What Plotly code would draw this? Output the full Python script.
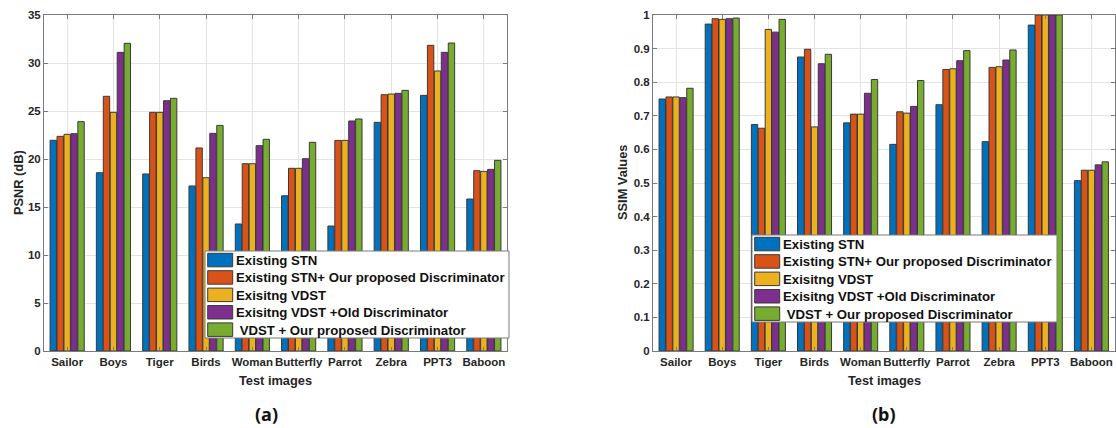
import plotly.graph_objects as go
from plotly.subplots import make_subplots

# Test images and method names
images = ["Sailor", "Boys", "Tiger", "Birds", "Woman", "Butterfly", "Parrot", "Zebra", "PPT3", "Baboon"]
methods = [
    "Existing STN",
    "Existing STN+ Our proposed Discriminator",
    "Exisitng VDST",
    "Exisitng VDST +Old Discriminator",
    " VDST + Our proposed Discriminator",
]
colors = ["#0072BD", "#D95319", "#EDB120", "#7E2F8E", "#77AC30"]

# PSNR (dB) per method
psnr_stn = [21.95, 18.57, 18.44, 17.19, 13.23, 16.17, 13.02, 23.82, 26.63, 15.83]
psnr_stn_ours = [22.36, 26.53, 24.86, 21.15, 19.51, 19.03, 21.94, 26.70, 31.84, 18.78]
psnr_vdst = [22.57, 24.86, 24.86, 18.05, 19.51, 19.03, 21.94, 26.77, 29.17, 18.71]
psnr_vdst_old = [22.64, 31.11, 26.07, 22.67, 21.39, 20.03, 23.96, 26.84, 31.11, 18.92]
psnr_vdst_ours = [23.89, 32.05, 26.32, 23.50, 22.05, 21.74, 24.17, 27.15, 32.08, 19.86]

# SSIM per method
ssim_stn = [0.750, 0.973, 0.674, 0.875, 0.679, 0.615, 0.733, 0.623, 0.970, 0.507]
ssim_stn_ours = [0.756, 0.989, 0.663, 0.898, 0.705, 0.712, 0.838, 0.844, 1.000, 0.538]
ssim_vdst = [0.756, 0.987, 0.957, 0.667, 0.705, 0.708, 0.840, 0.846, 1.000, 0.538]
ssim_vdst_old = [0.754, 0.989, 0.949, 0.855, 0.767, 0.728, 0.864, 0.866, 1.000, 0.554]
ssim_vdst_ours = [0.782, 0.991, 0.987, 0.883, 0.808, 0.805, 0.894, 0.896, 1.000, 0.563]

psnr_series = [psnr_stn, psnr_stn_ours, psnr_vdst, psnr_vdst_old, psnr_vdst_ours]
ssim_series = [ssim_stn, ssim_stn_ours, ssim_vdst, ssim_vdst_old, ssim_vdst_ours]

W, H = 1116, 428


def fx(x):
    return x / W


def fy(y):
    return 1 - y / H


FONT = "Arial, Liberation Sans, sans-serif"
positions = list(range(1, len(images) + 1))

fig = make_subplots(rows=1, cols=2)

for col, series in ((1, psnr_series), (2, ssim_series)):
    for name, vals, c in zip(methods, series, colors):
        fig.add_trace(
            go.Bar(
                x=positions, y=vals, name=name.strip(),
                marker=dict(color=c, line=dict(color="#3a3a3a", width=1)),
                showlegend=False,
            ),
            row=1, col=col,
        )

axis_common = dict(
    showline=True, linecolor="#7a7a7a", linewidth=1, mirror="ticks",
    ticks="inside", ticklen=4, tickcolor="#7a7a7a",
    showgrid=True, gridcolor="#e3e3e3", gridwidth=1, zeroline=False,
    tickfont=dict(family=FONT, size=11.5, color="#262626", weight="bold"),
    automargin=False, tickangle=0,
)

fig.update_layout(
    width=W, height=H,
    margin=dict(l=0, r=0, t=0, b=0),
    paper_bgcolor="white", plot_bgcolor="white",
    barmode="group", bargap=0.25, bargroupgap=0.08,
    xaxis=dict(domain=[fx(44), fx(507)], range=[0.5, 10.5],
               tickvals=positions, ticktext=images, **axis_common),
    xaxis2=dict(domain=[fx(653), fx(1114.5)], range=[0.5, 10.5],
                tickvals=positions, ticktext=images, **axis_common),
    yaxis=dict(domain=[fy(351), fy(15)], range=[0, 35], dtick=5, **axis_common),
    yaxis2=dict(domain=[fy(351), fy(15)], range=[0, 1], dtick=0.1, **axis_common),
)

shapes = []
annotations = []

# Hand-built legends with wide swatches, boxed over the bars
for (bx0, by0, bx1, by1) in ((205, 251, 509, 338), (752, 235, 1057, 322)):
    shapes.append(dict(type="rect", xref="paper", yref="paper",
                       x0=fx(bx0), x1=fx(bx1), y0=fy(by1), y1=fy(by0),
                       fillcolor="white", line=dict(color="#7a7a7a", width=1),
                       layer="above"))
    for i, (name, c) in enumerate(zip(methods, colors)):
        top = by0 + 2.3 + i * 17.4
        shapes.append(dict(type="rect", xref="paper", yref="paper",
                           x0=fx(bx0 + 2.7), x1=fx(bx0 + 27.7),
                           y0=fy(top + 13.5), y1=fy(top),
                           fillcolor=c, line=dict(color="#3a3a3a", width=1),
                           layer="above"))
        label = name.replace(" ", "\u00a0", 1) if name.startswith(" ") else name
        annotations.append(dict(xref="paper", yref="paper",
                                x=fx(bx0 + 29.3), y=fy(top + 7.2),
                                xanchor="left", yanchor="middle", showarrow=False,
                                text=label,
                                font=dict(family=FONT, size=13.2, color="#111111", weight="bold")))

# Axis titles and panel captions
title_font = dict(family=FONT, size=12.8, color="#262626", weight="bold")
caption_font = dict(family="Noto Sans, DejaVu Sans, sans-serif", size=18, color="#111111", weight="bold")
annotations += [
    dict(xref="paper", yref="paper", x=fx(275.5), y=fy(380), text="Test images",
         showarrow=False, xanchor="center", yanchor="middle", font=title_font),
    dict(xref="paper", yref="paper", x=fx(884), y=fy(380), text="Test images",
         showarrow=False, xanchor="center", yanchor="middle", font=title_font),
    dict(xref="paper", yref="paper", x=fx(18), y=fy(183), text="PSNR (dB)",
         textangle=-90, showarrow=False, xanchor="center", yanchor="middle", font=title_font),
    dict(xref="paper", yref="paper", x=fx(622), y=fy(183), text="SSIM Values",
         textangle=-90, showarrow=False, xanchor="center", yanchor="middle", font=title_font),
    dict(xref="paper", yref="paper", x=fx(266), y=fy(414), text="(a)",
         showarrow=False, xanchor="center", yanchor="middle", font=caption_font),
    dict(xref="paper", yref="paper", x=fx(884), y=fy(414), text="(b)",
         showarrow=False, xanchor="center", yanchor="middle", font=caption_font),
]

fig.update_layout(shapes=shapes, annotations=annotations)
fig.write_html("out.html")
